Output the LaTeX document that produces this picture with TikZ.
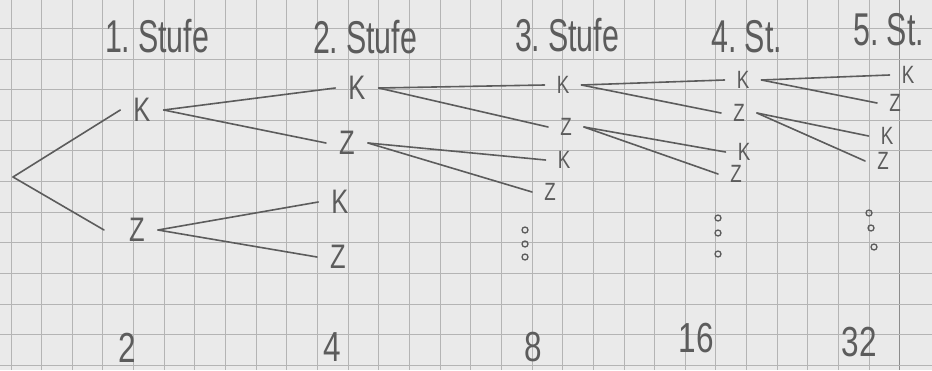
\documentclass[tikz,border=0pt]{standalone}
\usepackage{fontspec}
\newfontfamily\hand[FakeStretch=0.75]{Liberation Sans}
\newfontfamily\handnarrow[FakeStretch=0.66]{Liberation Sans}
\definecolor{paper}{RGB}{234,234,234}
\definecolor{gridc}{RGB}{180,180,180}
\definecolor{gridd}{RGB}{140,140,140}
\definecolor{pencil}{RGB}{92,92,92}
\begin{document}
\begin{tikzpicture}[x=1pt,y=-1pt,
  head/.style={font=\handnarrow\fontsize{46}{50}\selectfont, text=pencil, inner sep=0pt, anchor=base},
  big/.style={font=\hand\fontsize{34}{36}\selectfont, text=pencil, inner xsep=13pt, inner ysep=1pt},
  small/.style={font=\hand\fontsize{25}{27}\selectfont, text=pencil, inner xsep=12pt, inner ysep=0pt},
  num/.style={font=\hand\fontsize{42}{46}\selectfont, text=pencil, inner sep=0pt},
  edge/.style={draw=pencil, line width=1.6pt, line cap=round},
  dotc/.style={circle, draw=pencil, line width=1.3pt, minimum size=6pt, inner sep=0pt}]
\fill[paper] (0,0) rectangle (932,370);
\useasboundingbox (0,0) rectangle (932,370);
% grid
\foreach \k in {0,...,28} \draw[gridc, line width=1pt] ({11+30.65*\k},0) -- ({11+30.65*\k},370);
\draw[gridd, line width=1.2pt] (899.5,0) -- (899.5,370);
\foreach \k in {1,...,12} \draw[gridc, line width=1pt] (0,{-2.3+30.65*\k}) -- (932,{-2.3+30.65*\k});
% headings
\node[head] (h1) at (157,52) {1.\,Stufe};
\node[head] (h2) at (365,53) {2.\,Stufe};
\node[head] (h3) at (567,51) {3.\,Stufe};
\node[head] (h4) at (747,52) {4.\,St.};
\node[head] (h5) at (889,45) {5.\,St.};
% tree
\coordinate (r) at (13,177);
\node[big] (k1) at (142,110) {K};
\node[big] (z1) at (137,230) {Z};
\node[big] (k2a) at (357,88) {K};
\node[big] (z2a) at (347,143) {Z};
\node[big] (k2b) at (340,202) {K};
\node[big] (z2b) at (338,257) {Z};
\node[small] (k3a) at (563,85) {K};
\node[small] (z3a) at (566,127) {Z};
\node[small] (k3b) at (564,160) {K};
\node[small] (z3b) at (550,192) {Z};
\node[small] (k4a) at (743,80) {K};
\node[small] (z4a) at (739,113) {Z};
\node[small] (k4b) at (744,152) {K};
\node[small] (z4b) at (736,174) {Z};
\node[small] (k5a) at (908,75) {K};
\node[small] (z5a) at (895,103) {Z};
\node[small] (k5b) at (887,136) {K};
\node[small] (z5b) at (883,161) {Z};
\draw[edge] (r) -- (k1.west);
\draw[edge] (r) -- ([xshift=-12pt]z1.west);
\draw[edge] (k1.east) -- (k2a.west);
\draw[edge] (k1.east) -- (z2a.west);
\draw[edge] (z1.east) -- (k2b.west);
\draw[edge] (z1.east) -- (z2b.west);
\draw[edge] (k2a.east) -- (k3a.west);
\draw[edge] (k2a.east) -- (z3a.west);
\draw[edge] (z2a.east) -- (k3b.west);
\draw[edge] (z2a.east) -- (z3b.west);
\draw[edge] (k3a.east) -- (k4a.west);
\draw[edge] (k3a.east) -- (z4a.west);
\draw[edge] (z3a.east) -- (k4b.west);
\draw[edge] (z3a.east) -- (z4b.west);
\draw[edge] (k4a.east) -- (k5a.west);
\draw[edge] (k4a.east) -- (z5a.west);
\draw[edge] (z4a.east) -- (k5b.west);
\draw[edge] (z4a.east) -- (z5b.west);
% dots
\node[dotc] (d3a) at (525,230) {};
\node[dotc] (d3b) at (525,244) {};
\node[dotc] (d3c) at (525,257) {};
\node[dotc] (d4a) at (718,218) {};
\node[dotc] (d4b) at (718,233) {};
\node[dotc] (d4c) at (718,254) {};
\node[dotc] (d5a) at (869,213) {};
\node[dotc] (d5b) at (871,228) {};
\node[dotc] (d5c) at (874,247) {};
% counts
\node[num] (n1) at (127,348) {2};
\node[num] (n2) at (332,347) {4};
\node[num] (n3) at (533,347) {8};
\node[num] (n4) at (696,338) {16};
\node[num] (n5) at (859,342) {32};
\end{tikzpicture}
\end{document}
